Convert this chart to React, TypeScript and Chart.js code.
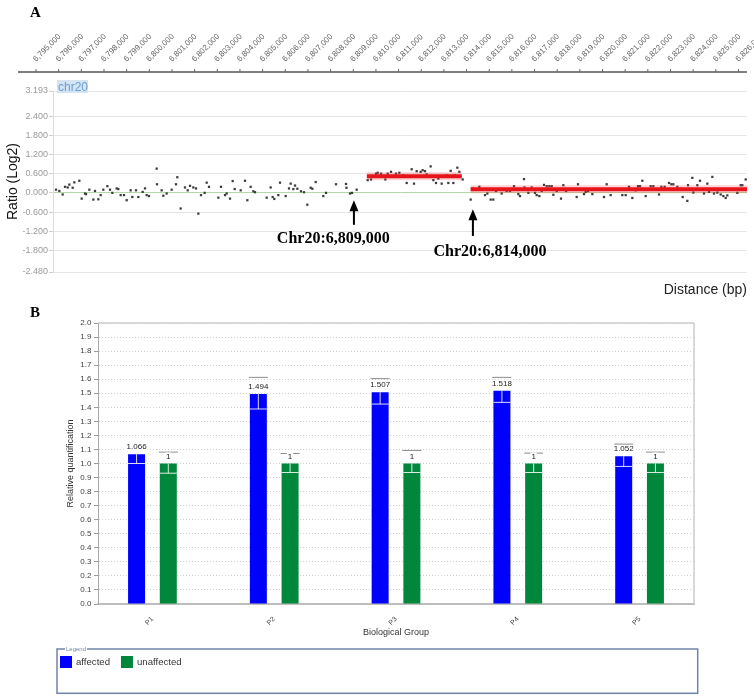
import React, { useEffect, useRef } from 'react';
import { Chart, registerables } from 'chart.js';

Chart.register(...registerables);

// ---------------- Panel A data (array CGH, chr20) ----------------
const leftPositions = [6795883, 6796030, 6796177, 6796280, 6796397, 6796471, 6796618, 6796692, 6796912, 6797015, 6797162, 6797207, 6797354, 6797530, 6797604, 6797751, 6797854, 6797971, 6798148, 6798266, 6798369, 6798560, 6798633, 6798736, 6798883, 6799001, 6799178, 6799251, 6799413, 6799516, 6799707, 6799810, 6799884, 6799987, 6800325, 6800340, 6800546, 6800619, 6800766, 6800987, 6801178, 6801237, 6801384, 6801575, 6801693, 6801796, 6801943, 6802061, 6802164, 6802281, 6802443, 6802532, 6802634, 6803046, 6803164, 6803341, 6803414, 6803561, 6803679, 6803767, 6804032, 6804223, 6804326, 6804473, 6804591, 6804664, 6805179, 6805356, 6805444, 6805518, 6805694, 6805768, 6806018, 6806165, 6806239, 6806356, 6806430, 6806533, 6806694, 6806827, 6806974, 6807121, 6807195, 6807342, 6807680, 6807798, 6808239, 6808680, 6808700, 6808857, 6808945, 6809151];
const leftRatios = [0.10, 0.06, -0.05, 0.19, 0.17, 0.26, 0.16, 0.33, 0.38, -0.18, -0.02, -0.04, 0.10, -0.21, 0.06, -0.20, -0.07, 0.10, 0.21, 0.10, 0.00, 0.14, 0.12, -0.07, -0.07, -0.23, 0.08, -0.13, 0.08, -0.13, 0.03, 0.14, -0.07, -0.10, 0.76, 0.27, 0.08, -0.09, -0.02, 0.10, 0.27, 0.49, -0.49, 0.17, 0.08, 0.22, 0.17, 0.14, -0.65, -0.07, 0.00, 0.32, 0.19, -0.15, 0.19, -0.07, -0.02, -0.18, 0.37, 0.12, 0.08, 0.38, -0.23, 0.19, 0.05, 0.02, -0.15, 0.17, -0.13, -0.19, -0.07, 0.32, -0.10, 0.14, 0.29, 0.12, 0.23, 0.13, 0.05, 0.02, -0.37, 0.16, 0.13, 0.34, -0.10, 0.00, 0.27, 0.28, 0.16, -0.02, 0.00, 0.10];

const gainPositions = [6809636, 6809784, 6810004, 6810078, 6810225, 6810416, 6810519, 6810666, 6810813, 6810887, 6811034, 6811200, 6811358, 6811578, 6811681, 6811799, 6811975, 6812064, 6812166, 6812240, 6812417, 6812534, 6812652, 6812755, 6812902, 6812976, 6813123, 6813196, 6813299, 6813417, 6813490, 6813593, 6813682, 6813829];
const gainRatios = [0.40, 0.42, 0.60, 0.63, 0.60, 0.42, 0.60, 0.66, 0.50, 0.60, 0.63, 0.55, 0.31, 0.74, 0.29, 0.68, 0.66, 0.71, 0.68, 0.58, 0.83, 0.40, 0.31, 0.45, 0.29, 0.50, 0.55, 0.31, 0.69, 0.31, 0.55, 0.79, 0.66, 0.42];

const rightPositions = [6814182, 6814270, 6814564, 6814814, 6814917, 6815065, 6815182, 6815300, 6815550, 6815771, 6815918, 6816094, 6816285, 6816359, 6816535, 6816555, 6816727, 6816874, 6817021, 6817095, 6817212, 6817315, 6817418, 6817536, 6817653, 6817756, 6817830, 6817977, 6818168, 6818271, 6818389, 6818860, 6818918, 6819183, 6819257, 6819360, 6819551, 6820066, 6820184, 6820360, 6820875, 6821022, 6821169, 6821316, 6821463, 6821566, 6821655, 6821757, 6821905, 6822125, 6822243, 6822493, 6822596, 6822743, 6822934, 6823037, 6823125, 6823302, 6823449, 6823537, 6823743, 6823773, 6823964, 6824008, 6824184, 6824302, 6824479, 6824626, 6824699, 6824846, 6824920, 6825067, 6825214, 6825332, 6825435, 6825508, 6825950, 6826097, 6826170, 6826318];
const rightRatios = [-0.21, 0.14, 0.19, -0.07, -0.02, -0.21, -0.21, 0.06, -0.02, 0.06, 0.06, 0.21, -0.04, -0.10, 0.43, 0.17, 0.00, 0.17, 0.00, -0.07, -0.10, 0.06, 0.25, 0.21, 0.21, 0.21, -0.06, 0.06, -0.18, 0.24, 0.06, -0.13, 0.27, -0.04, 0.03, 0.06, -0.04, -0.13, 0.27, -0.07, -0.07, -0.07, 0.19, -0.16, 0.08, 0.21, 0.21, 0.38, -0.10, 0.21, 0.21, -0.05, 0.19, 0.19, 0.31, 0.27, 0.27, 0.19, 0.13, -0.13, -0.25, 0.24, 0.47, 0.01, 0.24, 0.38, -0.02, 0.29, 0.03, 0.50, -0.02, 0.01, -0.05, -0.10, -0.16, -0.08, 0.00, 0.24, 0.24, 0.42];

const segmentStarts = [6809600, 6814180];
const segmentEnds = [6813790, 6826376];
const segmentRatios = [0.52, 0.115];

const yTicksA = [3.193, 2.4, 1.8, 1.2, 0.6, 0, -0.6, -1.2, -1.8, -2.48];
const topAxisTicks = [6795000, 6796000, 6797000, 6798000, 6799000, 6800000, 6801000, 6802000, 6803000, 6804000, 6805000, 6806000, 6807000, 6808000, 6809000, 6810000, 6811000, 6812000, 6813000, 6814000, 6815000, 6816000, 6817000, 6818000, 6819000, 6820000, 6821000, 6822000, 6823000, 6824000, 6825000, 6826000];

const breakpointLabels = ['Chr20:6,809,000', 'Chr20:6,814,000'];
const breakpointArrowPositions = [6809030, 6814280];
const arrowTips = [-0.23, -0.51];
const arrowTails = [-1.0, -1.35];
const labelXs = [6808120, 6815035];
const labelYs = [-1.45, -1.84];

// ---------------- Panel B data (qPCR) ----------------
const groups = ['P1', 'P2', 'P3', 'P4', 'P5'];
const seriesNames = ['affected', 'unaffected'];
const affected = [1.066, 1.494, 1.507, 1.518, 1.052];
const unaffected = [1, 1, 1, 1, 1];
const affectedHigh = [1.13, 1.613, 1.604, 1.613, 1.138];
const affectedLow = [1.0, 1.388, 1.423, 1.435, 0.979];
const unaffectedHigh = [1.081, 1.071, 1.093, 1.074, 1.081];
const unaffectedLow = [0.931, 0.936, 0.936, 0.936, 0.936];

const SANS = '"Liberation Sans", Arial, sans-serif';
const SERIF = '"Liberation Serif", "Times New Roman", serif';

Chart.defaults.font.family = SANS;

function seg(ctx: any, x1: number, y1: number, x2: number, y2: number) {
  ctx.beginPath();
  ctx.moveTo(x1, y1);
  ctx.lineTo(x2, y2);
  ctx.stroke();
}

const panelAOverlay = {
  id: 'panelAOverlay',
  afterDraw(chart: any) {
    const { ctx, chartArea: ca, scales } = chart;
    const xs = scales.x;
    const ys = scales.y;
    ctx.save();
    // top distance axis
    const axisY = ca.top - 19;
    ctx.strokeStyle = '#555';
    ctx.lineWidth = 1.5;
    seg(ctx, ca.left - 35, axisY, ca.right, axisY);
    ctx.lineWidth = 1;
    ctx.strokeStyle = '#666';
    ctx.fillStyle = '#666';
    ctx.font = `8px ${SANS}`;
    ctx.textAlign = 'left';
    ctx.textBaseline = 'middle';
    topAxisTicks.forEach((v) => {
      const px = xs.getPixelForValue(v);
      seg(ctx, px, axisY - 3, px, axisY);
      ctx.save();
      ctx.translate(px - 1.5, axisY - 11.5);
      ctx.rotate(-Math.PI / 4);
      ctx.fillText(v.toLocaleString('en-US'), 0, 0);
      ctx.restore();
    });
    // chr20 tag
    ctx.fillStyle = '#d3e4f3';
    ctx.fillRect(ca.left + 4, ca.top - 11, 31, 13);
    ctx.fillStyle = '#6d9fcf';
    ctx.font = `12px ${SANS}`;
    ctx.textBaseline = 'alphabetic';
    ctx.fillText('chr20', ca.left + 5, ca.top);
    // breakpoint arrows
    ctx.fillStyle = '#000';
    ctx.strokeStyle = '#000';
    ctx.lineWidth = 2;
    breakpointArrowPositions.forEach((p, i) => {
      const px = xs.getPixelForValue(p);
      const tip = ys.getPixelForValue(arrowTips[i]);
      const tail = ys.getPixelForValue(arrowTails[i]);
      seg(ctx, px, tip + 8, px, tail);
      ctx.beginPath();
      ctx.moveTo(px, tip);
      ctx.lineTo(px - 4.5, tip + 11);
      ctx.lineTo(px + 4.5, tip + 11);
      ctx.closePath();
      ctx.fill();
      ctx.font = `bold 16px ${SERIF}`;
      ctx.textAlign = 'center';
      ctx.textBaseline = 'middle';
      ctx.fillText(breakpointLabels[i], xs.getPixelForValue(labelXs[i]), ys.getPixelForValue(labelYs[i]));
    });
    ctx.restore();
  },
};

const panelBOverlay = {
  id: 'panelBOverlay',
  beforeDatasetsDraw(chart: any) {
    const { ctx, chartArea: ca } = chart;
    ctx.save();
    ctx.strokeStyle = '#cdcdcd';
    ctx.lineWidth = 1.5;
    seg(ctx, ca.left, ca.top, ca.right, ca.top);
    seg(ctx, ca.right, ca.top, ca.right, ca.bottom);
    ctx.restore();
  },
  afterDatasetsDraw(chart: any) {
    const { ctx, scales } = chart;
    const ys = scales.y;
    const vals = [affected, unaffected];
    const highs = [affectedHigh, unaffectedHigh];
    const lows = [affectedLow, unaffectedLow];
    ctx.save();
    chart.data.datasets.forEach((_ds: any, di: number) => {
      const meta = chart.getDatasetMeta(di);
      meta.data.forEach((bar: any, j: number) => {
        const x = bar.x;
        const w = bar.width;
        const top = ys.getPixelForValue(vals[di][j]);
        const hi = ys.getPixelForValue(highs[di][j]);
        const lo = ys.getPixelForValue(lows[di][j]);
        ctx.lineWidth = 1;
        ctx.strokeStyle = '#8c8c8c';
        seg(ctx, x - w / 2 - 1, hi, x + w / 2 + 1, hi);
        ctx.strokeStyle = 'rgba(255,255,255,0.85)';
        seg(ctx, x, top, x, lo);
        seg(ctx, x - w / 2, lo, x + w / 2, lo);
        const txt = String(vals[di][j]);
        ctx.font = `8px ${SANS}`;
        const tw = ctx.measureText(txt).width;
        ctx.fillStyle = '#fff';
        ctx.fillRect(x - tw / 2 - 1, top - 11, tw + 2, 8);
        ctx.fillStyle = '#222';
        ctx.textAlign = 'center';
        ctx.textBaseline = 'middle';
        ctx.fillText(txt, x, top - 7);
      });
    });
    ctx.restore();
  },
  afterDraw(chart: any) {
    const { ctx } = chart;
    const lx = 57, ly = 349, lw = 640.7, lh = 44.3;
    ctx.save();
    ctx.strokeStyle = '#7084a8';
    ctx.lineWidth = 1.5;
    ctx.strokeRect(lx, ly, lw, lh);
    ctx.font = `6px ${SANS}`;
    const cw = ctx.measureText('Legend').width;
    ctx.fillStyle = '#fff';
    ctx.fillRect(lx + 8, ly - 2, cw + 2, 4);
    ctx.fillStyle = '#7084a8';
    ctx.textAlign = 'left';
    ctx.textBaseline = 'middle';
    ctx.fillText('Legend', lx + 9, ly);
    let cx = lx + 3;
    const cy = ly + 13;
    ctx.font = `9.6px ${SANS}`;
    chart.data.datasets.forEach((ds: any) => {
      ctx.fillStyle = ds.backgroundColor;
      ctx.fillRect(cx, cy - 6, 12, 12);
      ctx.fillStyle = '#333';
      ctx.fillText(ds.label, cx + 16, cy);
      cx += 16 + ctx.measureText(ds.label).width + 11;
    });
    ctx.restore();
  },
};

function makeConfigA(): any {
  const pts = (xs: number[], ys: number[]) => xs.map((x, i) => ({ x, y: ys[i] }));
  const probeStyle = {
    pointStyle: 'rect',
    pointRadius: 1.6,
    backgroundColor: '#3c3c3c',
    borderWidth: 0,
    showLine: false,
    order: 2,
  };
  const segData = (i: number) => [{ x: segmentStarts[i], y: segmentRatios[i] }, { x: segmentEnds[i], y: segmentRatios[i] }];
  return {
    type: 'scatter',
    data: {
      datasets: [
        ...segmentStarts.map((_s, i) => ({
          label: 'segment' + i,
          data: segData(i),
          showLine: true,
          borderColor: '#e8141b',
          borderWidth: 4,
          pointRadius: 0,
          order: 0,
        })),
        ...segmentStarts.map((_s, i) => ({
          label: 'segmentHalo' + i,
          data: segData(i),
          showLine: true,
          borderColor: 'rgba(240,60,60,0.22)',
          borderWidth: 8,
          pointRadius: 0,
          order: 1,
        })),
        { label: 'left', data: pts(leftPositions, leftRatios), ...probeStyle },
        { label: 'gain', data: pts(gainPositions, gainRatios), ...probeStyle },
        { label: 'right', data: pts(rightPositions, rightRatios), ...probeStyle },
      ],
    },
    options: {
      animation: false,
      responsive: false,
      devicePixelRatio: 1,
      layout: { padding: { top: 91, right: 7, left: 0, bottom: 0 } },
      plugins: { legend: { display: false }, tooltip: { enabled: false } },
      scales: {
        x: {
          type: 'linear',
          min: 6795750,
          max: 6826376,
          grid: { display: false },
          border: { display: false },
          ticks: { display: false },
          title: {
            display: true,
            text: 'Distance (bp)',
            align: 'end',
            color: '#222',
            font: { family: SANS, size: 14 },
            padding: { top: 0, bottom: 1.6 },
          },
          afterFit: (s: any) => { s.height = 28; },
        },
        y: {
          min: -2.48,
          max: 3.193,
          afterBuildTicks: (s: any) => { s.ticks = yTicksA.map((v) => ({ value: v })); },
          ticks: {
            autoSkip: false,
            padding: 1,
            color: '#9a9a9a',
            font: { family: SANS, size: 9 },
            callback: (v: any) => Number(v).toFixed(3),
          },
          grid: {
            color: (c: any) => (c.tick && c.tick.value === 0 ? '#b5d6a6' : '#e5e5e5'),
            tickLength: 4,
            tickColor: '#d0d0d0',
          },
          border: { color: '#dcdcdc' },
          title: {
            display: true,
            text: 'Ratio (Log2)',
            color: '#111',
            font: { family: SANS, size: 14 },
            padding: { top: 5, bottom: 0 },
          },
          afterFit: (s: any) => { s.width = 53; },
        },
      },
    },
    plugins: [panelAOverlay],
  };
}

function makeConfigB(): any {
  return {
    type: 'bar',
    data: {
      datasets: [
        {
          label: seriesNames[0],
          data: affected.map((v, i) => ({ x: i + 1, y: v })),
          backgroundColor: '#0000ff',
          borderWidth: 0,
          barPercentage: 0.536,
          categoryPercentage: 0.521,
        },
        {
          label: seriesNames[1],
          data: unaffected.map((v, i) => ({ x: i + 1, y: v })),
          backgroundColor: '#00873c',
          borderWidth: 0,
          barPercentage: 0.536,
          categoryPercentage: 0.521,
        },
      ],
    },
    options: {
      animation: false,
      responsive: false,
      devicePixelRatio: 1,
      layout: { padding: { top: 23, right: 60, left: 0, bottom: 60 } },
      plugins: { legend: { display: false }, tooltip: { enabled: false } },
      scales: {
        x: {
          type: 'linear',
          offset: false,
          min: 0.553,
          max: 5.447,
          afterBuildTicks: (s: any) => { s.ticks = groups.map((_g, i) => ({ value: i + 1 })); },
          ticks: {
            autoSkip: false,
            maxRotation: 45,
            minRotation: 45,
            padding: 3,
            color: '#444',
            font: { family: SANS, size: 7 },
            callback: (v: any) => groups[Math.round(Number(v)) - 1],
          },
          grid: { display: false },
          border: { color: '#bdbdbd', width: 2 },
          title: {
            display: true,
            text: 'Biological Group',
            color: '#333',
            font: { family: SANS, size: 9 },
            padding: { top: 0, bottom: 1.6 },
          },
          afterFit: (s: any) => { s.height = 36; },
        },
        y: {
          min: 0,
          max: 2,
          ticks: {
            stepSize: 0.1,
            autoSkip: false,
            padding: 2.6,
            color: '#444',
            font: { family: SANS, size: 8 },
            callback: (v: any) => Number(v).toFixed(1),
          },
          grid: { color: '#cfcfcf', tickLength: 4, tickColor: '#999' },
          border: { color: '#aaaaaa', width: 1, dash: [1, 2] },
          title: {
            display: true,
            text: 'Relative quantification',
            color: '#333',
            font: { family: SANS, size: 9 },
            padding: { top: 65, bottom: 0 },
          },
          afterFit: (s: any) => { s.width = 98; },
        },
      },
    },
    plugins: [panelBOverlay],
  };
}

export default function App() {
  const refA = useRef<HTMLCanvasElement>(null);
  const refB = useRef<HTMLCanvasElement>(null);
  useEffect(() => {
    const a = new Chart(refA.current as HTMLCanvasElement, makeConfigA());
    const b = new Chart(refB.current as HTMLCanvasElement, makeConfigB());
    return () => {
      a.destroy();
      b.destroy();
    };
  }, []);
  const panelLabel: React.CSSProperties = {
    position: 'absolute',
    left: 30,
    font: `bold 15px ${SERIF}`,
    lineHeight: '15px',
    color: '#000',
  };
  return (
    <div style={{ position: 'absolute', left: 0, top: 0, width: 754, height: 700, background: '#fff', overflow: 'hidden' }}>
      <canvas ref={refA} width={754} height={300} style={{ position: 'absolute', left: 0, top: 0, width: 754, height: 300 }} />
      <canvas ref={refB} width={754} height={400} style={{ position: 'absolute', left: 0, top: 300, width: 754, height: 400 }} />
      <div style={{ ...panelLabel, top: 4.6 }}>A</div>
      <div style={{ ...panelLabel, top: 305.3 }}>B</div>
    </div>
  );
}
